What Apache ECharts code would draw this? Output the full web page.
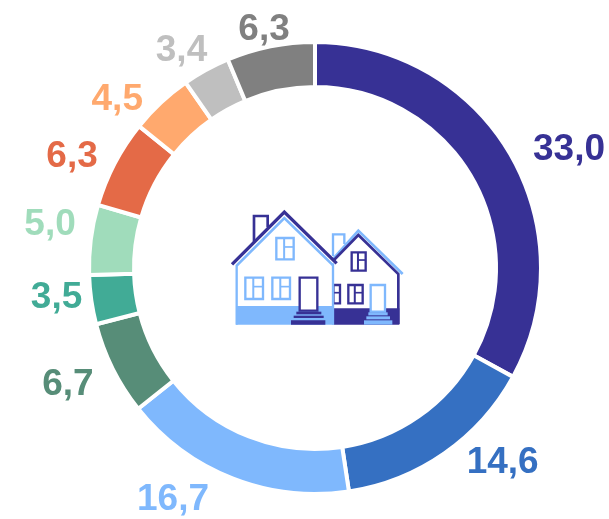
<!DOCTYPE html>
<html><head><meta charset="utf-8">
<style>html,body{margin:0;padding:0;background:#fff}#c{width:609px;height:519px}</style>
<script src="https://cdn.jsdelivr.net/npm/echarts@6/dist/echarts.min.js"></script>
</head><body><div id="c"></div>
<script>
const values = [33.0, 14.6, 16.7, 6.7, 3.5, 5.0, 6.3, 4.5, 3.4, 6.3];
const colors = ['#373195','#3570c2','#7fb8fd','#578d78','#41ab96','#a0dcbb','#e46a47','#ffa96e','#bfbfbf','#808080'];
const labelShift = [[15,-1],[15,6],[-17,18],[-15,14],[-5,-3],[-11,-14],[-13,-5],[5,-21],[28,-31],[25,-13]];
const DARK = '#373195', LIGHT = '#7fb8fd';
const chart = echarts.init(document.getElementById('c'));
const line = (pts, c, w) => ({type:'polyline', shape:{points:pts}, style:{stroke:c, lineWidth:w||7, fill:null}});
const rect = (x0,y0,x1,y1,fill,stroke,w) => ({type:'rect', shape:{x:x0,y:y0,width:x1-x0,height:y1-y0}, style:{fill:fill||null, stroke:stroke||null, lineWidth:w||7}});
const poly = (pts, fill) => ({type:'polygon', shape:{points:pts}, style:{fill}});
const win = (x0,y0,x1,y1,c) => {
  const mx = x0 + (x1-x0)*0.45, my = y0 + (y1-y0)*0.42;
  return [rect(x0,y0,x1,y1,'#fff',c,7), line([[mx,y0],[mx,y1]],c,6), line([[mx,my],[x1,my]],c,5)];
};
const house = [
  line([[339,168],[339,103],[373,103],[373,132]],LIGHT),
  line([[340,176],[415,92],[548,222]],LIGHT,8),
  poly([[342,180],[415,107],[535,224],[535,372],[342,372]],'#fff'),
  rect(342,325,538,374,DARK),
  line([[342,180],[415,105],[535,222],[535,372]],DARK,8),
  ...win(395,157,437,212,DARK),
  ...win(385,255,428,310,DARK),
  ...win(325,255,360,310,DARK),
  rect(452,255,495,335,'#fff',LIGHT,7),
  rect(445,337,503,346,LIGHT), rect(439,349,510,358,LIGHT), rect(432,361,517,374,LIGHT),
  poly([[50,195],[193,50],[340,195],[340,372],[50,372]],'#fff'),
  rect(48,318,342,374,LIGHT),
  line([[50,195],[50,374]],LIGHT), line([[339,190],[339,374]],LIGHT),
  line([[50,197],[193,54],[340,197]],LIGHT,8),
  line([[36,193],[193,36],[350,190]],DARK,10),
  line([[102,125],[102,48],[143,48],[143,82]],DARK,8),
  ...win(169,114,221,178,LIGHT),
  ...win(76,233,129,297,LIGHT),
  ...win(157,233,210,297,LIGHT),
  rect(239,233,292,332,'#fff',DARK,7),
  rect(229,335,304,343,DARK), rect(221,347,311,354,DARK), rect(213,361,316,374,DARK)
];
chart.setOption({
  animation:false,
  backgroundColor:'#fff',
  series:[{
    type:'pie',
    center:[315,268],
    radius:[181,226],
    startAngle:90,
    silent:true,
    itemStyle:{borderColor:'#fff',borderWidth:4},
    label:{show:true,position:'outside',fontFamily:'Liberation Sans',fontWeight:'bold',fontSize:37,
      formatter:p=>p.value.toFixed(1).replace('.',',')},
    labelLine:{show:false,length:4,length2:0},
    labelLayout:p=>({dx:labelShift[p.dataIndex][0],dy:labelShift[p.dataIndex][1]}),
    data:values.map((v,i)=>({value:v,name:String(i),itemStyle:{color:colors[i]},label:{color:colors[i]}}))
  }],
  graphic:[{type:'group',x:220,y:200,scaleX:1/3,scaleY:1/3,children:house}]
});
</script></body></html>
